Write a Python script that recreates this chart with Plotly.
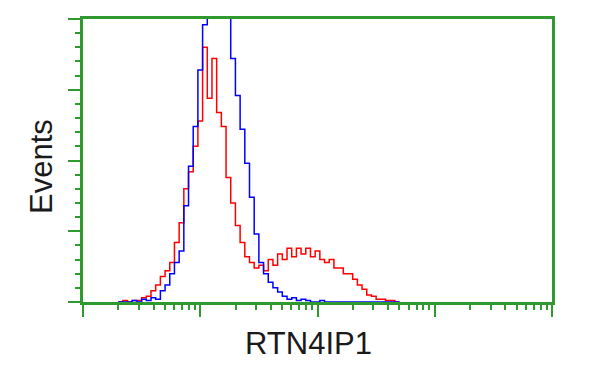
import numpy as np
import plotly.graph_objects as go

# log-decade bin positions (fluorescence channel grid)
decade_bins = [round(0.30 + 0.04 * i, 2) for i in range(61)]

blue_counts = [0, 0, 0, 0.5, 0, 1, 0.5, 1.5, 1, 4,
               6, 10, 14, 18, 34, 48, 62, 82, 98, 115,
               125, 128, 120, 104, 86, 73, 61, 49, 37, 24,
               14, 10, 7, 5, 3.5, 2, 1, 1.5, 0.5, 1,
               0.5, 0, 0, 0.5, 0, 0, 0, 0, 0, 0,
               0, 0, 0, 0, 0, 0, 0, 0, 0, 0, 0]

red_counts = [0, 0.5, 0, 0.5, 0.5, 1.5, 2, 4, 6, 9,
              11, 14, 21, 28, 40, 46, 55, 64, 90, 72,
              86, 67, 62, 44, 35, 27, 21, 16, 14, 12,
              13, 11, 15, 13, 17, 15, 19, 16, 19, 17,
              19, 16, 18, 15, 14, 15, 12, 12, 10, 10,
              8, 6, 4.5, 2.5, 2, 1, 1, 0.5, 0.5, 0, 0]

x_title = "RTN4IP1"
y_title = "Events"

intensity = [10 ** d for d in decade_bins]
green = "#2f9a2f"

fig = go.Figure()
fig.add_trace(go.Scatter(x=intensity, y=red_counts, mode="lines",
                         line=dict(color="#ff0000", width=1.5, shape="hv"),
                         showlegend=False))
fig.add_trace(go.Scatter(x=intensity, y=blue_counts, mode="lines",
                         line=dict(color="#0000ff", width=1.5, shape="hv"),
                         showlegend=False))

major_x = [1, 10, 100, 1000, 10000]
minor_x = [m * 10 ** e for e in range(4) for m in range(2, 10)]

fig.update_layout(
    width=600, height=375,
    margin=dict(l=83, r=48, t=19, b=73),
    paper_bgcolor="white", plot_bgcolor="white",
    font=dict(family="Liberation Sans, Arial, sans-serif", color="#1a1a1a"),
    xaxis=dict(type="log", range=[0, 4], showgrid=False, zeroline=False,
               showline=True, linecolor=green, linewidth=2.5, mirror=True,
               ticks="outside", tickvals=major_x, ticklen=12, tickwidth=2,
               tickcolor=green, showticklabels=False,
               minor=dict(tickvals=minor_x, ticks="outside", ticklen=5,
                          tickwidth=1.5, tickcolor=green)),
    yaxis=dict(range=[0, 100], showgrid=False, zeroline=False,
               showline=True, linecolor=green, linewidth=2.5, mirror=True,
               ticks="outside", tickvals=[0, 25, 50, 75, 100], ticklen=12,
               tickwidth=2, tickcolor=green, showticklabels=False,
               minor=dict(dtick=5, ticks="outside", ticklen=5, tickwidth=1.5,
                          tickcolor=green)),
    annotations=[
        dict(text=x_title, xref="paper", yref="paper", x=0.48, y=0,
             xanchor="center", yanchor="middle", yshift=-41, showarrow=False,
             font=dict(size=31)),
        dict(text=y_title, xref="paper", yref="paper", x=0, y=0.477,
             xanchor="center", yanchor="middle", xshift=-42, showarrow=False,
             textangle=-90, font=dict(size=31)),
    ],
)

fig.write_html("out.html")
